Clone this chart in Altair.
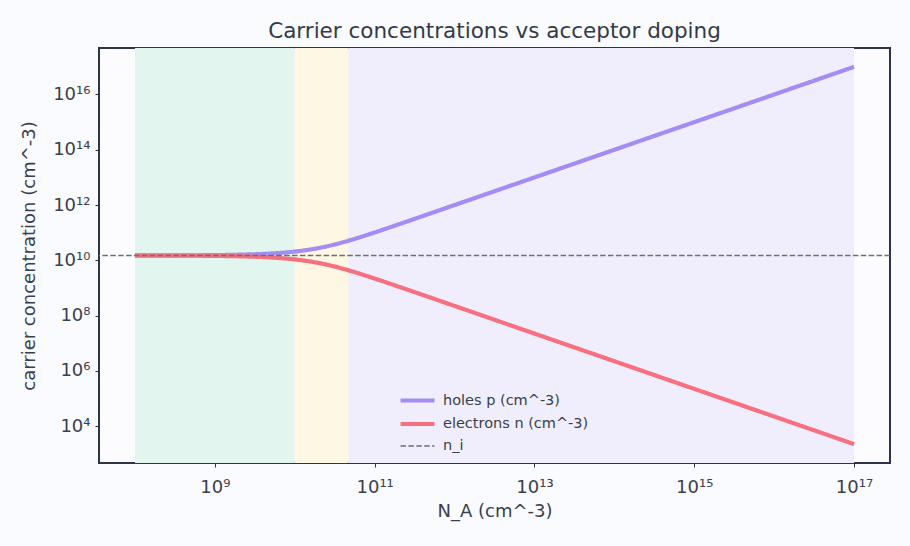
import altair as alt
import pandas as pd

# ---- data ----
NA = [1e8, 2e8, 5e8, 1e9, 2e9, 5e9, 1e10, 2e10, 3e10, 5e10, 1e11, 2e11,
      5e11, 1e12, 1e13, 1e14, 1e15, 1e16, 1e17]
holes = [1.505e10, 1.510e10, 1.525e10, 1.551e10, 1.603e10, 1.771e10, 2.081e10,
         2.803e10, 3.621e10, 5.416e10, 1.022e11, 2.011e11, 5.005e11, 1.0002e12,
         1e13, 1e14, 1e15, 1e16, 1e17]
electrons = [1.495e10, 1.490e10, 1.475e10, 1.451e10, 1.403e10, 1.271e10, 1.081e10,
             8.03e9, 6.21e9, 4.15e9, 2.20e9, 1.119e9, 4.50e8, 2.25e8,
             2.25e7, 2.25e6, 2.25e5, 2.25e4, 2.25e3]
ni_value = [1.5e10]

region_names = ["intrinsic", "transition", "extrinsic"]
region_start = [1e8, 1e10, 4.7e10]
region_end = [1e10, 4.7e10, 1e17]

series_names = ["holes p (cm^-3)", "electrons n (cm^-3)", "n_i"]
x_ticks = [1e9, 1e11, 1e13, 1e15, 1e17]
y_ticks = [1e4, 1e6, 1e8, 1e10, 1e12, 1e14, 1e16]

# ---- tables ----
curves = pd.DataFrame({
    "NA": NA * 2,
    "value": holes + electrons,
    "series": [series_names[0]] * len(NA) + [series_names[1]] * len(NA),
})
ni_df = pd.DataFrame({"value": ni_value, "series": [series_names[2]]})
regions = pd.DataFrame({"name": region_names, "start": region_start, "end": region_end})

x_dom = [10 ** 7.55, 10 ** 17.45]
y_dom = [10 ** 2.67, 10 ** 17.682]

sup = ("'10' + replace(replace(replace(replace(replace(replace(replace(replace(replace(replace(replace("
       "format(round(log(datum.value)/LN10),'d'),'1','¹'),'1','¹'),'0','⁰'),'2','²'),'3','³'),"
       "'4','⁴'),'5','⁵'),'6','⁶'),'7','⁷'),'8','⁸'),'9','⁹')")

xscale = alt.Scale(type="log", domain=x_dom, nice=False)
yscale = alt.Scale(type="log", domain=y_dom, nice=False)

color_scale = alt.Scale(domain=series_names, range=["#a48cf2", "#f7707f", "#6b6f7a"])
dash_scale = alt.Scale(domain=series_names, range=[[1, 0], [1, 0], [5.5, 2.4]])
width_scale = alt.Scale(type="ordinal", domain=series_names, range=[4.2, 4.2, 1.5])

legend = alt.Legend(title=None, orient="none", legendX=307.5, legendY=341.5,
                    symbolType="M-2,0H2", symbolSize=289, labelFontSize=14.5,
                    labelColor="#3a3f4b", rowPadding=3.5, labelOffset=14.5,
                    padding=0, labelFont="DejaVu Sans")

x_axis = alt.Axis(title="N_A (cm^-3)", values=x_ticks, labelExpr=sup, grid=False)
y_axis = alt.Axis(title="carrier concentration (cm^-3)", values=y_ticks, labelExpr=sup, grid=False)

rects = alt.Chart(regions).mark_rect(strokeWidth=0).encode(
    x=alt.X("start:Q", scale=xscale, axis=x_axis),
    x2="end:Q",
    fill=alt.Fill("name:N", scale=alt.Scale(domain=region_names,
                                            range=["#e2f6ef", "#fdf7e3", "#f0eefc"]),
                  legend=None),
)


def curve(name):
    return alt.Chart(curves).transform_filter(alt.datum.series == name).mark_line(
        interpolate="monotone", strokeCap="butt"
    ).encode(
        x=alt.X("NA:Q", scale=xscale, axis=x_axis),
        y=alt.Y("value:Q", scale=yscale, axis=y_axis),
        color=alt.Color("series:N", scale=color_scale, legend=legend),
        strokeDash=alt.StrokeDash("series:N", scale=dash_scale, legend=legend),
        strokeWidth=alt.StrokeWidth("series:N", scale=width_scale, legend=legend),
    )


rule = alt.Chart(ni_df).mark_rule().encode(
    y=alt.Y("value:Q", scale=yscale, axis=y_axis),
    color=alt.Color("series:N", scale=color_scale, legend=legend),
    strokeDash=alt.StrokeDash("series:N", scale=dash_scale, legend=legend),
    strokeWidth=alt.StrokeWidth("series:N", scale=width_scale, legend=legend),
)

chart = alt.layer(rects, curve(series_names[0]), curve(series_names[1]), rule).properties(
    width=791, height=415,
    title=alt.TitleParams("Carrier concentrations vs acceptor doping", fontSize=21.5,
                          color="#333a46", font="DejaVu Sans", fontWeight="normal",
                          offset=6),
    autosize=alt.AutoSizeParams(type="none"),
    padding={"left": 99, "top": 48, "right": 20, "bottom": 83},
    background="#fafbfe",
).configure_view(
    stroke="#2e3447", strokeWidth=2, fill="#fcfcff"
).configure_axis(
    domain=False, tickColor="#2e3447", tickSize=4, tickWidth=1,
    labelFont="DejaVu Sans", labelFontSize=18, labelColor="#3a3f4b",
    titleFont="DejaVu Sans", titleFontSize=18, titleColor="#3a3f4b",
    titleFontWeight="normal",
).configure_axisX(labelPadding=11, titlePadding=6).configure_axisY(labelPadding=5, titlePadding=14)

chart.save("out.html", embed_options={"renderer": "svg", "actions": False})
